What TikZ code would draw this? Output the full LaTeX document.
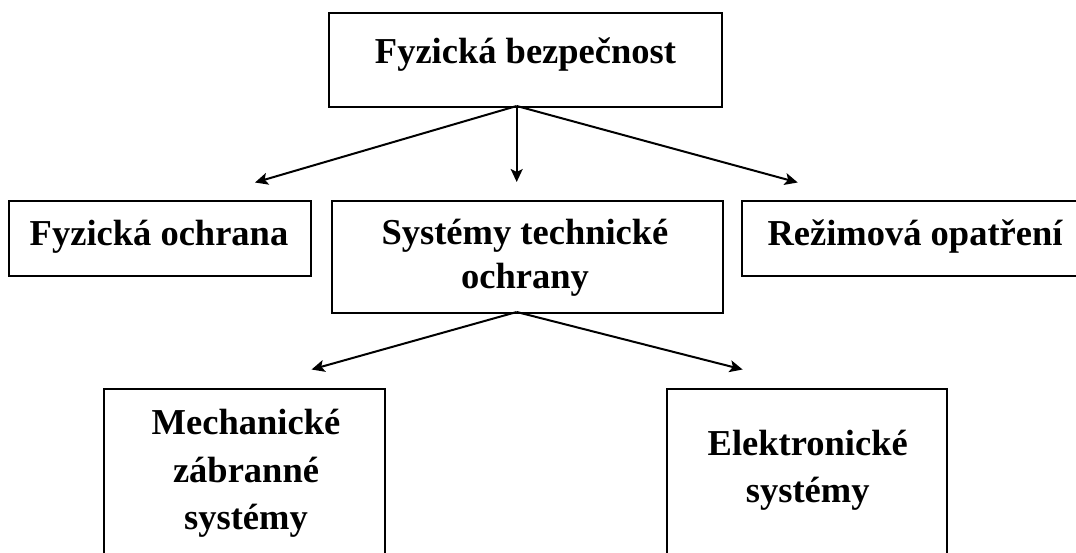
\documentclass[tikz,border=0pt]{standalone}
\usepackage{fontspec}
\setmainfont{Liberation Serif}
\usetikzlibrary{arrows.meta}
\begin{document}
\begin{tikzpicture}[x=1pt,y=-1pt,
  box/.style={draw=black, line width=2pt, rectangle, inner sep=0pt},
  lbl/.style={anchor=base, inner sep=0pt, font=\fontsize{36.5}{40}\selectfont\bfseries},
  arr/.style={line width=2pt, -{Stealth[length=13pt,width=12pt,inset=3pt]}}]
\useasboundingbox (0,0) rectangle (1076,553);
\clip (0,0) rectangle (1076,553);
% boxes
\node[box, minimum width=393pt, minimum height=94pt] (top) at (525.5,60) {};
\node[box, minimum width=302pt, minimum height=75pt] (left) at (160,238.5) {};
\node[box, minimum width=391pt, minimum height=112pt] (mid) at (527.3,257) {};
\node[box, minimum width=350pt, minimum height=75pt] (right) at (917,238.5) {};
\node[box, minimum width=281pt, minimum height=200pt] (bl) at (244.5,488.7) {};
\node[box, minimum width=280pt, minimum height=200pt] (br) at (807,488.7) {};
% texts
\node[lbl] (topT) at (525.5,64) {Fyzická bezpečnost};
\node[lbl] (leftT) at (159,246) {Fyzická ochrana};
\node[lbl] (midT1) at (525,245) {Systémy technické};
\node[lbl] (midT2) at (525,289) {ochrany};
\node[lbl] (rightT) at (915,246) {Režimová opatření};
\node[lbl] (blT1) at (246,434) {Mechanické};
\node[lbl] (blT2) at (246,482) {zábranné};
\node[lbl] (blT3) at (246,529) {systémy};
\node[lbl] (brT1) at (807.7,455) {Elektronické};
\node[lbl] (brT2) at (807.7,502) {systémy};
% connector points
\coordinate (o1) at (516.7,106);
\coordinate (t1) at (255,182.5);
\coordinate (t2) at (516.7,182);
\coordinate (t3) at (797.7,182.5);
\coordinate (o2) at (516.7,312);
\coordinate (t4) at (311.6,369.5);
\coordinate (t5) at (742.6,369.5);
\draw[arr] (o1) -- (t1);
\draw[arr] (o1) -- (t2);
\draw[arr] (o1) -- (t3);
\draw[arr] (o2) -- (t4);
\draw[arr] (o2) -- (t5);
\end{tikzpicture}
\end{document}
